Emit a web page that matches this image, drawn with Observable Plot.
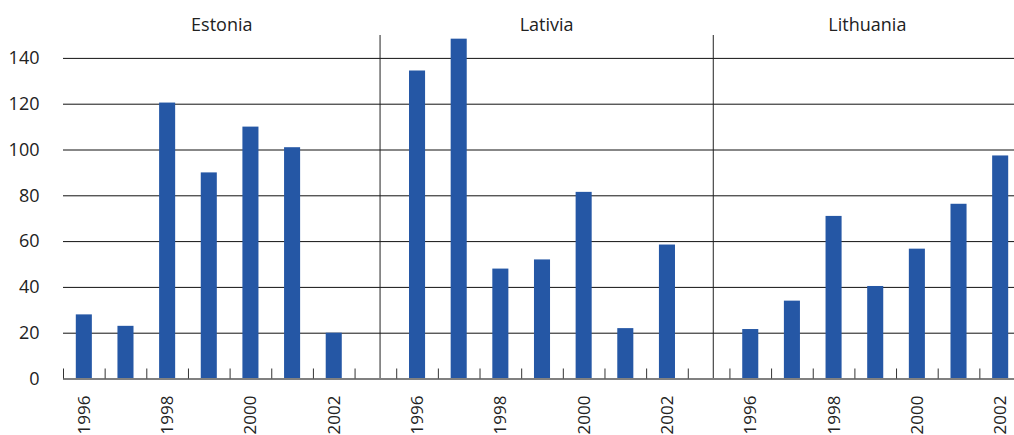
<!DOCTYPE html>
<html>
<head>
<meta charset="utf-8">
<script src="https://cdn.jsdelivr.net/npm/d3@7"></script>
<script src="https://cdn.jsdelivr.net/npm/@observablehq/plot@0.6"></script>
<style>
  html, body { margin: 0; padding: 0; background: #fff; overflow: hidden; }
  #chart svg { display: block; overflow: hidden; }
</style>
</head>
<body>
<div id="chart"></div>
<script>
// ---- Data ----
const regions = ["Estonia", "Lativia", "Lithuania"];
const years = [1996, 1997, 1998, 1999, 2000, 2001, 2002];
const estonia = [28, 23, 120.5, 90, 110, 101, 20];
const latvia = [134.5, 148.4, 48, 52, 81.5, 22, 58.5];
const lithuania = [21.6, 34, 71, 40.4, 56.7, 76.3, 97.4];
const yTicks = [0, 20, 40, 60, 80, 100, 120, 140];
const yearLabels = [1996, 1998, 2000, 2002];

// ---- Layout in slot units (one slot per year, one empty slot between countries) ----
const seriesValues = [estonia, latvia, lithuania];
const slotsPerGroup = years.length + 1;
const totalSlots = regions.length * slotsPerGroup - 1;
const dividerOffset = 0.6;

const bars = [];
regions.forEach((r, k) => {
  years.forEach((yr, j) => {
    bars.push({region: r, year: yr, slot: k * slotsPerGroup + j, value: seriesValues[k][j]});
  });
});
const labels = bars.filter(d => yearLabels.includes(d.year));
const boundaries = d3.range(0, totalSlots + 1);
const dividers = regions.slice(1).map((r, k) => (k + 1) * slotsPerGroup - 1 + dividerOffset);
const edges = [0, ...dividers, totalSlots];
const headers = regions.map((r, k) => ({region: r, x: (edges[k] + edges[k + 1]) / 2}));

const font = "'Open Sans', 'DejaVu Sans', sans-serif";

const chart = Plot.plot({
  width: 1014,
  height: 435,
  marginLeft: 63,
  marginTop: 35,
  marginBottom: 56.5,
  marginRight: 0,
  style: {fontFamily: font, fontSize: "18px", color: "#222", background: "#fff"},
  x: {domain: [0, totalSlots], range: [63, 1021], axis: null},
  y: {domain: [0, 150], range: [378.5, 35]},
  marks: [
    Plot.ruleY(yTicks.filter(v => v > 0), {y: d => d, x1: 0, x2: totalSlots, stroke: "#111", strokeWidth: 1}),
    Plot.ruleX(dividers, {x: d => d, y1: 0, y2: 150, stroke: "#222", strokeWidth: 1}),
    Plot.rectY(bars, {x1: d => d.slot, x2: d => d.slot + 1, y1: 0, y2: "value", fill: "#2557A5", insetLeft: 12.8, insetRight: 12.8}),
    Plot.ruleY([0], {x1: 0, x2: totalSlots, stroke: "#808080", strokeWidth: 2}),
    Plot.ruleX(boundaries, {x: d => d, y1: 0, y2: 0, insetTop: -10, stroke: "#333", strokeWidth: 1}),
    Plot.axisY({ticks: yTicks, tickSize: 0, tickPadding: 24, fontSize: 18, label: null, fill: "#222"}),
    Plot.text(labels, {x: d => d.slot + 0.5, y: 0, text: d => String(d.year), rotate: -90, textAnchor: "end", lineAnchor: "middle", dy: 16.5, fontSize: 17, fill: "#222"}),
    Plot.text(headers, {x: "x", y: 150, text: "region", dy: -10, lineAnchor: "middle", fontSize: 18, fill: "#222"})
  ]
});
document.getElementById("chart").appendChild(chart);
</script>
</body>
</html>
